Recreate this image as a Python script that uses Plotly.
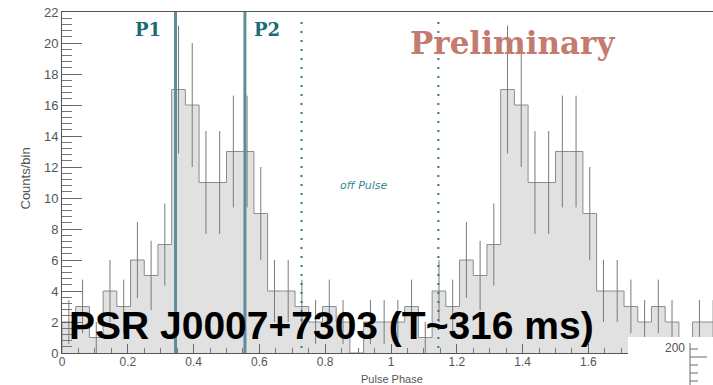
import numpy as np
import plotly.graph_objects as go

# Phase histogram, 24 bins per rotation, shown over two rotations
bin_width = 1.0 / 24
counts = [2, 3, 1, 4, 3, 6, 5, 7, 17, 16, 11, 11, 13, 13, 9, 4, 4, 3, 2, 3, 2, 0, 2, 2,
          2, 3, 1, 4, 3, 6, 5, 7, 17, 16, 11, 11, 13, 13, 9, 4, 4, 3, 2, 3, 2, 0, 2, 2]

# Phase boundaries of the on-pulse windows (P1, P2) and the off-pulse region
peak_edges = [0.345, 0.556]
offpulse_edges = [0.728, 1.144]

x_ticks = [0, 0.2, 0.4, 0.6, 0.8, 1.0, 1.2, 1.4, 1.6, 1.8]
y_ticks = list(range(0, 23, 2))

counts_arr = np.array(counts, dtype=float)
edges = np.arange(len(counts) + 1) * bin_width
centers = edges[:-1] + bin_width / 2
errors = np.sqrt(counts_arr)

step_x = np.concatenate([[edges[0]], edges[:-1], [edges[-1]]])
step_y = np.concatenate([[0.0], counts_arr, [counts_arr[-1]]])

fig = go.Figure()

fig.add_trace(go.Scatter(
    x=step_x, y=step_y, mode="lines",
    line=dict(shape="hv", color="#8c8c8c", width=1),
    fill="tozeroy", fillcolor="#e1e1e1",
    hoverinfo="skip", showlegend=False,
))

fig.add_trace(go.Scatter(
    x=centers, y=counts_arr, mode="markers",
    marker=dict(size=1, color="rgba(0,0,0,0)"),
    error_y=dict(type="data", array=errors, width=0, thickness=1, color="#7a7a7a"),
    showlegend=False,
))

shapes = []
for xv in peak_edges:
    shapes.append(dict(type="line", xref="x", yref="paper", x0=xv, x1=xv, y0=0, y1=1,
                       line=dict(color="#5f8e9b", width=3), layer="above"))
for xv in offpulse_edges:
    shapes.append(dict(type="line", xref="x", yref="paper", x0=xv, x1=xv, y0=0.015, y1=0.985,
                       line=dict(color="#2b7c84", width=2, dash="2px,7px"), layer="above"))

# Corner of the neighbouring panel in the lower right
def px_x(p):
    return (p - 62) / 651.0

def px_y(p):
    return (353 - p) / 341.0

shapes.append(dict(type="rect", xref="paper", yref="paper",
                   x0=px_x(628), x1=px_x(716), y0=px_y(337), y1=px_y(390),
                   fillcolor="white", line=dict(width=0), layer="above"))
shapes.append(dict(type="line", xref="paper", yref="paper",
                   x0=px_x(690), x1=px_x(690), y0=px_y(343), y1=px_y(390),
                   line=dict(color="#666", width=1), layer="above"))
for ty, tl in [(349, 8), (357, 17), (365, 8), (373, 8), (381, 8)]:
    shapes.append(dict(type="line", xref="paper", yref="paper",
                       x0=px_x(690), x1=px_x(690 + tl), y0=px_y(ty), y1=px_y(ty),
                       line=dict(color="#666", width=1), layer="above"))

serif = "DejaVu Serif"
annotations = [
    dict(x=0.261, y=20.9, xref="x", yref="y", text="P1", showarrow=False,
         font=dict(family=serif, size=18, color="#1d6b74", weight="bold")),
    dict(x=0.623, y=20.9, xref="x", yref="y", text="P2", showarrow=False,
         font=dict(family=serif, size=18, color="#1d6b74", weight="bold")),
    dict(x=1.368, y=20.0, xref="x", yref="y", text="Preliminary", showarrow=False,
         font=dict(family=serif, size=31, color="#c47a6e", weight="bold")),
    dict(x=0.918, y=10.8, xref="x", yref="y", text="off Pulse", showarrow=False,
         font=dict(family="DejaVu Sans", size=11, color="#2f8a92", style="italic")),
    dict(x=0.015, y=1.75, xref="x", yref="y", text="PSR J0007+7303 (T~316 ms)",
         showarrow=False, xanchor="left",
         font=dict(family="Liberation Sans", size=39, color="#000000", weight="bold")),
    dict(x=px_x(392), y=px_y(386), xref="paper", yref="paper", text="Pulse Phase",
         yanchor="bottom", borderpad=0, showarrow=False,
         font=dict(family="Liberation Sans", size=11, color="#555")),
    dict(x=px_x(15), y=px_y(179), xref="paper", yref="paper", text="Counts/bin",
         textangle=-90, showarrow=False,
         font=dict(family="Liberation Sans", size=13, color="#555")),
    dict(x=px_x(687), y=px_y(357), xref="paper", yref="paper", text="200",
         xanchor="right", showarrow=False,
         font=dict(family="Liberation Sans", size=12, color="#555")),
]

fig.update_layout(
    width=713, height=385,
    margin=dict(l=62, r=0, t=12, b=32),
    paper_bgcolor="white", plot_bgcolor="white",
    shapes=shapes, annotations=annotations,
    font=dict(family="Liberation Sans", color="#555"),
)

fig.update_xaxes(
    range=[0, 651 / 329.0], tickvals=x_ticks, ticktext=[f"{v:g}" for v in x_ticks],
    showgrid=False, zeroline=False, showline=True, linecolor="#555", linewidth=1,
    mirror=True, ticks="inside", ticklen=9, tickcolor="#666",
    tickfont=dict(size=12, color="#555"), ticklabelstandoff=-2,
    minor=dict(dtick=0.05, ticks="inside", ticklen=5, tickcolor="#777"),
)
fig.update_yaxes(
    range=[0, 22], tickvals=y_ticks, showgrid=False, zeroline=False,
    showline=True, linecolor="#555", linewidth=1,
    ticks="inside", ticklen=20, tickcolor="#666",
    tickfont=dict(size=13, color="#555"),
    minor=dict(dtick=0.4, ticks="inside", ticklen=10, tickcolor="#777"),
)

fig.write_html("out.html")
